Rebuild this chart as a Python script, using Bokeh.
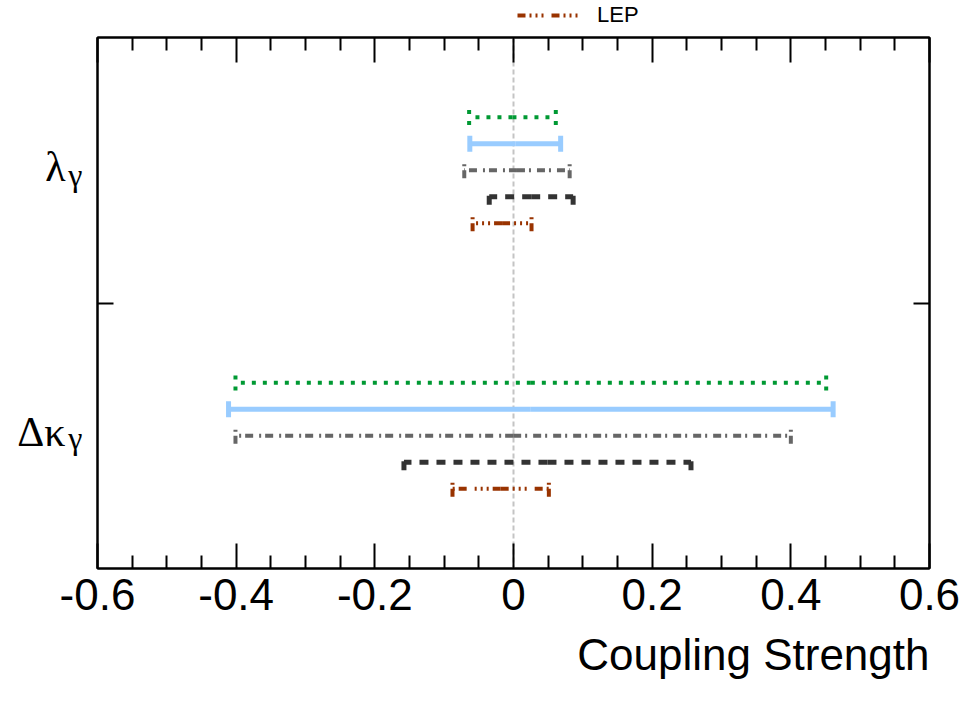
from bokeh.plotting import figure
from bokeh.layouts import column
from bokeh.models import (LinearAxis, FixedTicker, Span, Legend, LegendItem, Title,
                          ColumnDataSource, Range1d, CustomJSTickFormatter)
from bokeh.embed import file_html
from bokeh.resources import INLINE

# ---- data ----
params = ["Δκ", "λ"]          # couplings (subscript γ drawn separately)
param_sub = ["γ", "γ"]
param_pos = [0.5, 1.5]
series = ["A", "B", "C", "D", "LEP"]
dk_lo = [-0.401, -0.411, -0.401, -0.158, -0.088]
dk_hi = [0.451, 0.461, 0.400, 0.256, 0.051]
lg_lo = [-0.064, -0.063, -0.071, -0.035, -0.059]
lg_hi = [0.061, 0.068, 0.081, 0.086, 0.026]
x_ticks = [-0.6, -0.4, -0.2, 0.0, 0.2, 0.4, 0.6]

# ---- styles ----
offsets = [0.2, 0.1, 0.0, -0.1, -0.2]
styles = [
    dict(color="#009933", width=4, dash="4 7"),
    dict(color="#99ccff", width=5, dash="solid"),
    dict(color="#666666", width=4, dash="8 4 2 6"),
    dict(color="#333333", width=5, dash="9 8"),
    dict(color="#993300", width=4, dash="8 4 2 4 2 4 2 8"),
]
cap_h = 0.03
main_dy = [0.016, 0.014]
sub_dy = [-0.0085, -0.018]
TOP_H = 30
MAIN_H = 701 - TOP_H

p = figure(width=979, height=MAIN_H, x_range=Range1d(-0.6, 0.6), y_range=Range1d(0, 2),
           output_backend="svg", toolbar_location=None,
           min_border_left=97, min_border_right=50,
           min_border_top=37 - TOP_H, min_border_bottom=133)
p.xgrid.visible = False
p.ygrid.visible = False
p.outline_line_color = "black"
p.outline_line_width = 2
p.background_fill_color = "white"
p.border_fill_color = "white"

minor = [round(-0.6 + 0.05 * k, 2) for k in range(25)]
minor = [m for m in minor if all(abs(m - t) > 1e-6 for t in x_ticks)]

def style_x_axis(ax, labels):
    ax.ticker = FixedTicker(ticks=x_ticks, minor_ticks=minor)
    ax.axis_line_width = 2
    ax.major_tick_in = 25
    ax.major_tick_out = 0
    ax.minor_tick_in = 13
    ax.minor_tick_out = 0
    ax.major_tick_line_width = 2
    ax.minor_tick_line_width = 2
    if labels:
        ax.formatter = CustomJSTickFormatter(code="return Math.abs(tick) < 1e-9 ? '0' : tick.toFixed(1);")
        ax.major_label_text_font = "Liberation Sans"
        ax.major_label_text_font_size = "44px"
        ax.major_label_text_color = "black"
        ax.major_label_standoff = 10
    else:
        ax.formatter = CustomJSTickFormatter(code="return '';")
        ax.major_label_standoff = 0

def style_y_axis(ax):
    ax.ticker = FixedTicker(ticks=[1.0], minor_ticks=[])
    ax.formatter = CustomJSTickFormatter(code="return '';")
    ax.axis_line_width = 2
    ax.major_tick_in = 16
    ax.major_tick_out = 0
    ax.major_tick_line_width = 2
    ax.minor_tick_in = 0
    ax.minor_tick_out = 0
    ax.major_label_standoff = 0

def label_axis(ticks, labels, size, standoff):
    return LinearAxis(ticker=FixedTicker(ticks=ticks, minor_ticks=[]),
                      formatter=CustomJSTickFormatter(args=dict(labels=labels),
                                                      code="return labels[index];"),
                      axis_line_color=None, major_tick_line_color=None,
                      minor_tick_line_color=None, major_tick_in=0, major_tick_out=0,
                      minor_tick_in=0, minor_tick_out=0, major_label_standoff=standoff,
                      major_label_text_font="Liberation Serif",
                      major_label_text_font_size=f"{size}px",
                      major_label_text_color="black",
                      major_label_text_baseline="middle")

style_x_axis(p.xaxis[0], True)
style_y_axis(p.yaxis[0])
top = LinearAxis()
style_x_axis(top, False)
p.add_layout(top, "above")
right = LinearAxis()
style_y_axis(right)
p.add_layout(right, "right")

# parameter names as left-side tick labels: subscript column next to the frame, symbols outside
sub_axis = label_axis([pp + d for pp, d in zip(param_pos, sub_dy)], param_sub, 32, 15)
main_axis = label_axis([pp + d for pp, d in zip(param_pos, main_dy)], params, 42, 0)
p.add_layout(sub_axis, "left")
p.add_layout(main_axis, "left")

zero = Span(location=0, dimension="height", line_color="#c4c4c4", line_dash="5 3",
            line_width=2, level="underlay")
p.add_layout(zero)

for i, name in enumerate(series):
    lows = [dk_lo[i], lg_lo[i]]
    highs = [dk_hi[i], lg_hi[i]]
    mids = [(a + b) / 2 for a, b in zip(lows, highs)]
    ys = [pp + offsets[i] for pp in param_pos]
    st = styles[i]
    bars = ColumnDataSource(dict(x0=mids + mids, x1=lows + highs, y0=ys + ys, y1=ys + ys))
    caps = ColumnDataSource(dict(x0=lows + highs, x1=lows + highs,
                                 y0=[y - cap_h for y in ys] * 2, y1=[y + cap_h for y in ys] * 2))
    p.segment("x0", "y0", "x1", "y1", source=bars, line_color=st["color"],
              line_width=st["width"], line_dash=st["dash"])
    p.segment("x0", "y0", "x1", "y1", source=caps, line_color=st["color"],
              line_width=st["width"], line_dash=st["dash"])

# axis title, right-aligned below the axis
p.add_layout(Title(text="Coupling Strength", align="right", text_font="Liberation Sans",
                   text_font_size="44px", text_font_style="normal", text_color="black",
                   standoff=30), "below")

# top strip holding the legend (its frame is aligned with the main frame by the column layout)
t = figure(width=979, height=TOP_H, x_range=Range1d(0, 1), y_range=Range1d(0, 1),
           output_backend="svg", toolbar_location=None,
           x_axis_location=None, y_axis_location=None,
           min_border_left=0, min_border_right=0, min_border_top=0, min_border_bottom=0)
t.xgrid.visible = False
t.ygrid.visible = False
t.outline_line_color = None
t.background_fill_color = "white"
t.border_fill_color = "white"
lst = styles[4]
nan = float("nan")
r_leg = t.segment(x0=[nan], y0=[nan], x1=[nan], y1=[nan], line_color=lst["color"],
                  line_width=lst["width"], line_dash=lst["dash"])
legend = Legend(items=[LegendItem(label=series[4], renderers=[r_leg])],
                location=(420, 2), glyph_width=64, glyph_height=22, label_height=22,
                label_standoff=16, padding=0, margin=0, spacing=0,
                border_line_color=None, background_fill_alpha=0,
                label_text_font="Liberation Sans", label_text_font_size="22px",
                label_text_color="black")
t.add_layout(legend)

layout = column(t, p, spacing=0)
open("out.html", "w").write(file_html(layout, INLINE))
